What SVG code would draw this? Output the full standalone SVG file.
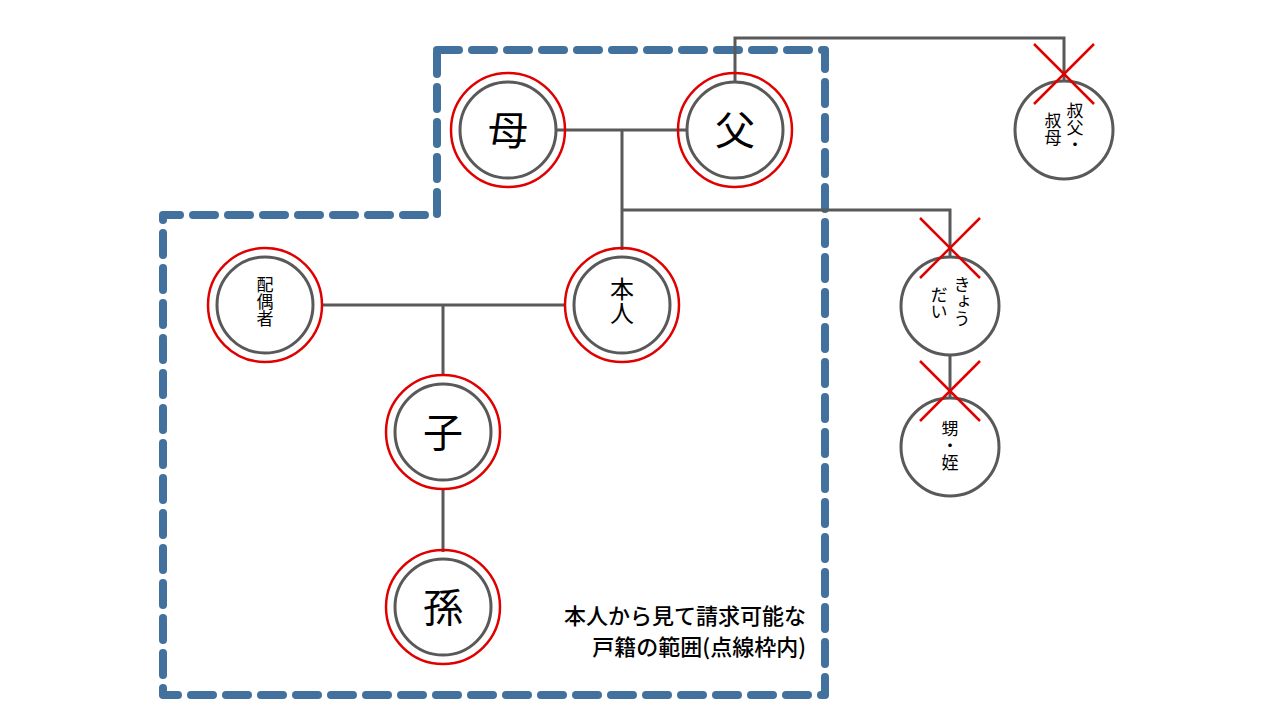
<svg xmlns="http://www.w3.org/2000/svg" width="1280" height="720" viewBox="0 0 1280 720">
<style>
.o{fill:none;stroke:#E00000;stroke-width:2.5}
.i{fill:#fff;stroke:#595959;stroke-width:3}
.l{fill:none;stroke:#595959;stroke-width:3}
.x{stroke:#E00000;stroke-width:2.5}
text{font-family:"Noto Sans CJK JP","Noto Sans",sans-serif;fill:#000;text-anchor:middle}
.v{writing-mode:vertical-rl;text-anchor:start}
.b{font-size:40px}
.m{font-size:24px}
.s{font-size:17px}
</style>
<rect width="1280" height="720" fill="#fff"/>
<path d="M437,50 H825 V695 H163 V215 H437 Z" fill="none" stroke="#41719C" stroke-width="8" stroke-dasharray="22,13" stroke-linecap="round" stroke-linejoin="round"/>
<g id="connectors">
<path class="l" d="M557,130 H686 M622,130 V250 M622,210 H950 V257 M735,82 V38 H1064 V81 M322,305 H565 M443,305 V375 M443,488 V552 M950,355 V398"/>
</g>
<g id="haha"><circle class="o" cx="508" cy="130" r="57"/><circle class="i" cx="508" cy="130" r="48"/><text class="b" x="508" y="145">母</text></g>
<g id="chichi"><circle class="o" cx="735" cy="130" r="57"/><circle class="i" cx="735" cy="130" r="48"/><text class="b" x="735" y="145">父</text></g>
<g id="honnin"><circle class="o" cx="622" cy="305" r="57"/><circle class="i" cx="622" cy="305" r="48"/><text class="m v" x="622" y="277">本人</text></g>
<g id="haigusha"><circle class="o" cx="265" cy="305" r="57"/><circle class="i" cx="265" cy="305" r="48"/><text class="s v" x="265" y="276">配偶者</text></g>
<g id="ko"><circle class="o" cx="443" cy="432" r="57"/><circle class="i" cx="443" cy="432" r="48"/><text class="b" x="443" y="447">子</text></g>
<g id="mago"><circle class="o" cx="443" cy="607" r="57"/><circle class="i" cx="443" cy="607" r="48"/><text class="b" x="443" y="622">孫</text></g>
<g id="oji"><circle class="i" cx="1064" cy="130" r="49"/>
<text class="s v" x="1075" y="102">叔父・</text>
<text class="s v" x="1053" y="112">叔母</text>
<line class="x" x1="1034" y1="44" x2="1094" y2="104"/><line class="x" x1="1094" y1="44" x2="1034" y2="104"/></g>
<g id="kyodai"><circle class="i" cx="950" cy="306" r="49"/>
<text class="s v" x="962" y="276">きょう</text>
<text class="s v" x="939" y="286">だい</text>
<line class="x" x1="920" y1="218" x2="980" y2="278"/><line class="x" x1="980" y1="218" x2="920" y2="278"/></g>
<g id="oimei"><circle class="i" cx="950" cy="447" r="49"/>
<text class="s v" x="950" y="420">甥・姪</text>
<line class="x" x1="920" y1="361" x2="980" y2="421"/><line class="x" x1="980" y1="361" x2="920" y2="421"/></g>
<g id="caption" font-weight="500">
<text x="806" y="624" font-size="22" style="text-anchor:end">本人から見て請求可能な</text>
<text x="806" y="655" font-size="22" style="text-anchor:end">戸籍の範囲(点線枠内)</text>
</g>
</svg>
